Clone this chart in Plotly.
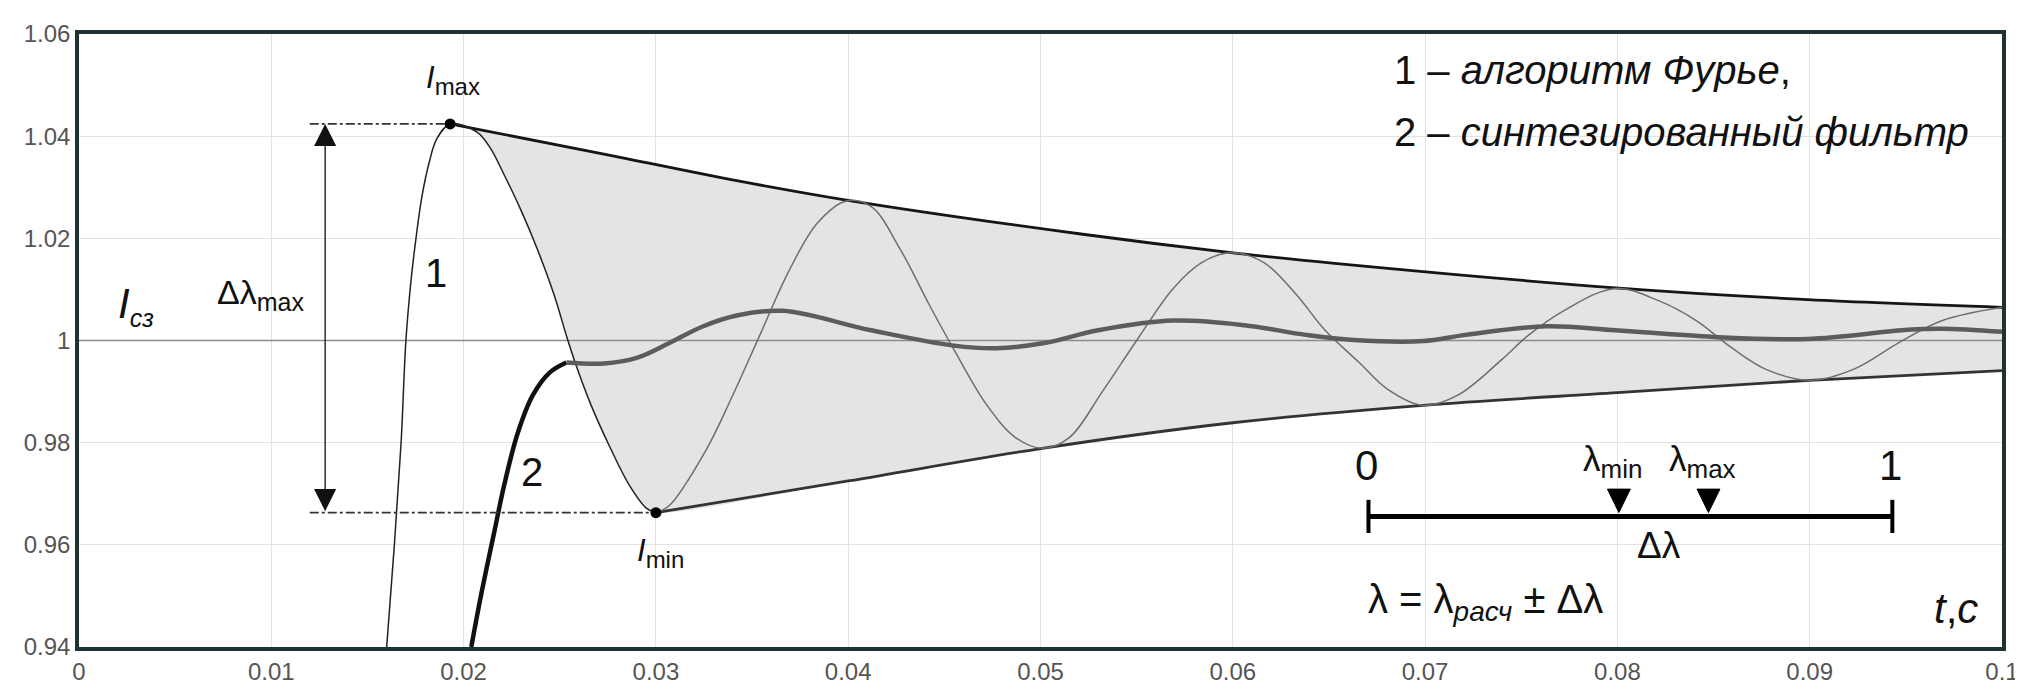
import plotly.graph_objects as go

# ---------------- data ----------------
x_ticks = [0, 0.01, 0.02, 0.03, 0.04, 0.05, 0.06, 0.07, 0.08, 0.09, 0.1]
x_tick_text = ["0", "0.01", "0.02", "0.03", "0.04", "0.05", "0.06", "0.07", "0.08", "0.09", "0.1"]
y_ticks = [0.94, 0.96, 0.98, 1.0, 1.02, 1.04, 1.06]
y_tick_text = ["0.94", "0.96", "0.98", "1", "1.02", "1.04", "1.06"]

# curve 1 - Fourier algorithm
c1_t = [0.0160, 0.0164, 0.01675, 0.0170, 0.01726, 0.01754, 0.01783, 0.01818, 0.01861, 0.0193,
        0.0207, 0.0214, 0.0221, 0.0229, 0.0238, 0.0247, 0.0254, 0.0259, 0.0266, 0.0276, 0.0286, 0.0295, 0.0300,
        0.0307, 0.0326, 0.0339, 0.0354, 0.0369, 0.0384, 0.0399, 0.0412, 0.0427, 0.0442, 0.0455, 0.0472,
        0.0487, 0.0501, 0.0515, 0.0532, 0.0550, 0.0569, 0.0584, 0.0599, 0.0616, 0.0633, 0.0648, 0.0666,
        0.0680, 0.0699, 0.0717, 0.0740, 0.0753, 0.0772, 0.0799, 0.0822, 0.0841, 0.0859, 0.0877, 0.0900,
        0.0923, 0.0946, 0.0969, 0.1000]
c1_y = [0.9400, 0.9600, 0.9800, 1.0000, 1.0115, 1.0205, 1.0281, 1.0344, 1.0395, 1.0424,
        1.0408, 1.0376, 1.0325, 1.0262, 1.0182, 1.0090, 1.0003, 0.9946, 0.9876, 0.9792, 0.9718, 0.9672, 0.9663,
        0.9677, 0.9785, 0.9885, 1.0010, 1.0135, 1.0230, 1.0273, 1.0262, 1.0179, 1.0071, 0.9982, 0.9874,
        0.9810, 0.9789, 0.9810, 0.9899, 1.0000, 1.0102, 1.0153, 1.0172, 1.0153, 1.0090, 1.0020, 0.9956,
        0.9906, 0.9873, 0.9893, 0.9963, 1.0008, 1.0058, 1.0102, 1.0077, 1.0039, 0.9987, 0.9944, 0.9922,
        0.9944, 0.9995, 1.0039, 1.0065]

# curve 2 - synthesized filter
c2_t = [0.0204, 0.0209, 0.0216, 0.0221, 0.0228, 0.0236, 0.0245, 0.02535,
        0.0273, 0.0290, 0.0307, 0.0324, 0.0342, 0.0366, 0.0412, 0.0455, 0.0477, 0.0502, 0.0530,
        0.0569, 0.0606, 0.0638, 0.0663, 0.0699, 0.0721, 0.0763, 0.0799, 0.0850, 0.0899, 0.0951,
        0.0969, 0.1000]
c2_y = [0.9400, 0.9500, 0.9626, 0.9715, 0.9817, 0.9893, 0.9938, 0.9957,
        0.9955, 0.9966, 0.9995, 1.0027, 1.0049, 1.0058, 1.0020, 0.9990, 0.9985, 0.9995, 1.0020,
        1.0039, 1.0030, 1.0011, 1.0001, 0.9999, 1.0011, 1.0028, 1.0020, 1.0007, 1.0003, 1.0021,
        1.0023, 1.0017]
c2_black_end_t = 0.02535

# envelopes
upper_t = [0.0193, 0.0273, 0.0342, 0.0399, 0.0522, 0.0599, 0.0653, 0.0799, 0.0899, 0.1000]
upper_y = [1.0424, 1.0365, 1.0313, 1.0275, 1.0208, 1.0172, 1.0151, 1.0103, 1.0080, 1.0065]
lower_t = [0.0300, 0.0400, 0.0501, 0.0600, 0.0699, 0.0800, 0.0900, 0.1000]
lower_y = [0.9663, 0.9725, 0.9789, 0.9839, 0.9873, 0.9898, 0.9922, 0.9941]

i_max = (0.0193, 1.0424)
i_min = (0.0300, 0.9663)
i_set = 1.0
dash_start_t = 0.0120
arrow_t = 0.0128

lam_min, lam_max = 0.478, 0.649   # positions on the 0..1 scale bar

# ---------------- layout helpers ----------------
W, H = 2023, 689
ML, MR, MT, MB = 71, 23, 23, 37
PW, PH = W - ML - MR, H - MT - MB
FONT = "Liberation Sans, Arial, sans-serif"


def pxx(xp):
    return (xp - ML) / PW


def pxy(yp):
    return (H - MB - yp) / PH


i_max_idx = c1_t.index(i_max[0])
i_min_idx = c1_t.index(i_min[0])
c2_split = c2_t.index(c2_black_end_t)

fig = go.Figure()

# fill region: lower boundary (curve 1 falling part + lower envelope), then upper envelope
fill_low_t = c1_t[i_max_idx:i_min_idx + 1] + lower_t[1:]
fill_low_y = c1_y[i_max_idx:i_min_idx + 1] + lower_y[1:]
fig.add_trace(go.Scatter(x=fill_low_t, y=fill_low_y, mode="lines",
                         line=dict(width=0, shape="spline", color="rgba(0,0,0,0)"),
                         hoverinfo="skip"))
fig.add_trace(go.Scatter(x=upper_t, y=upper_y, mode="lines", fill="tonexty",
                         fillcolor="#e4e4e4",
                         line=dict(width=2.8, shape="spline", color="#151515"),
                         hoverinfo="skip"))

# I_sz reference line
fig.add_trace(go.Scatter(x=[x_ticks[0], x_ticks[-1]], y=[i_set, i_set], mode="lines",
                         line=dict(width=1.6, color="#8c8c8c"), hoverinfo="skip"))

# lower envelope
fig.add_trace(go.Scatter(x=lower_t, y=lower_y, mode="lines",
                         line=dict(width=2.8, shape="spline", color="#333333"), hoverinfo="skip"))

# curve 1
fig.add_trace(go.Scatter(x=c1_t[:i_min_idx + 1], y=c1_y[:i_min_idx + 1], mode="lines",
                         line=dict(width=1.5, shape="spline", color="#222222"), hoverinfo="skip"))
fig.add_trace(go.Scatter(x=c1_t[i_min_idx:], y=c1_y[i_min_idx:], mode="lines",
                         line=dict(width=1.5, shape="spline", color="#6e6e6e"), hoverinfo="skip"))

# curve 2
fig.add_trace(go.Scatter(x=c2_t[:c2_split + 1], y=c2_y[:c2_split + 1], mode="lines",
                         line=dict(width=4.5, shape="spline", color="#111111"), hoverinfo="skip"))
fig.add_trace(go.Scatter(x=c2_t[c2_split:], y=c2_y[c2_split:], mode="lines",
                         line=dict(width=4.5, shape="spline", color="#5c5c5c"), hoverinfo="skip"))

# dash-dot level lines
for (tt, yy) in (i_max, i_min):
    fig.add_trace(go.Scatter(x=[dash_start_t, tt], y=[yy, yy], mode="lines",
                             line=dict(width=1.6, dash="dashdot", color="#333333"), hoverinfo="skip"))

# Imax / Imin dots
fig.add_trace(go.Scatter(x=[i_max[0], i_min[0]], y=[i_max[1], i_min[1]], mode="markers",
                         marker=dict(size=11, color="#000000"), hoverinfo="skip"))

annotations = []
# double arrow delta lambda max
annotations.append(dict(x=arrow_t, y=i_max[1], ax=arrow_t, ay=i_min[1], xref="x", yref="y",
                        axref="x", ayref="y", text="", showarrow=True, arrowside="end+start",
                        arrowhead=2, startarrowhead=2, arrowsize=3.4, startarrowsize=3.4,
                        arrowwidth=1.3, arrowcolor="#111111"))


def txt(text, x, y, size, xanchor="center", yanchor="middle", color="#111111"):
    annotations.append(dict(text=text, x=pxx(x), y=pxy(y), xref="paper", yref="paper",
                            showarrow=False, xanchor=xanchor, yanchor=yanchor,
                            font=dict(family=FONT, size=size, color=color)))


def sub(s, size):
    return "<sub><span style='font-size:%dpx'>%s</span></sub>" % (size, s)


txt("<i>I</i>" + sub("max", 24), 446, 70, 31)
txt("<i>I</i>" + sub("min", 24), 654, 556, 31)
txt("<i>I</i>" + sub("<i>сз</i>", 25), 128, 302, 42)
txt("Δλ" + sub("max", 25), 253, 290, 34)
txt("1", 429, 268, 40)
txt("2", 525, 472, 40)
txt("1 – <i>алгоритм Фурье</i>,", 1388, 60, 40, xanchor="left")
txt("2 – <i>синтезированный фильтр</i>", 1388, 124, 40, xanchor="left")

# scale bar
bar_x0, bar_x1, bar_y = 1364.5, 1890.0, 518.0
txt("0", bar_x0 - 2, 466, 42)
txt("1", bar_x1 - 2, 466, 42)
lmin_px = bar_x0 + lam_min * (bar_x1 - bar_x0)
lmax_px = bar_x0 + lam_max * (bar_x1 - bar_x0)
txt("λ" + sub("min", 26), lmin_px - 6, 462, 35)
txt("λ" + sub("max", 26), lmax_px - 6, 462, 35)
txt("Δλ", (bar_x0 + bar_x1) / 2 + 29, 548, 37)
txt("λ = λ" + sub("<i>расч</i>", 28) + " ± Δλ", 1362, 606, 40, xanchor="left")
txt("<i>t</i>,<i>c</i>", 1978, 612, 42, xanchor="right")

shapes = []
shapes.append(dict(type="line", xref="paper", yref="paper", x0=pxx(bar_x0), x1=pxx(bar_x1),
                   y0=pxy(bar_y), y1=pxy(bar_y), line=dict(color="#000000", width=5)))
for bx in (bar_x0, bar_x1):
    shapes.append(dict(type="line", xref="paper", yref="paper", x0=pxx(bx), x1=pxx(bx),
                       y0=pxy(501), y1=pxy(535), line=dict(color="#000000", width=4)))
for lx in (lmin_px, lmax_px):
    path = "M %f %f L %f %f L %f %f Z" % (pxx(lx - 11.5), pxy(490), pxx(lx + 11.5), pxy(490),
                                         pxx(lx), pxy(514))
    shapes.append(dict(type="path", xref="paper", yref="paper", path=path,
                       fillcolor="#000000", line=dict(color="#000000", width=1)))

fig.update_layout(
    width=W, height=H,
    margin=dict(l=ML, r=MR, t=MT, b=MB, pad=0),
    paper_bgcolor="white", plot_bgcolor="white",
    showlegend=False,
    font=dict(family=FONT),
    annotations=annotations,
    shapes=shapes,
    xaxis=dict(range=[x_ticks[0], x_ticks[-1]], tickvals=x_ticks, ticktext=x_tick_text,
               showgrid=True, gridcolor="#e2e2e2", gridwidth=1, zeroline=False,
               showline=True, linecolor="#1d3333", linewidth=3.5, mirror=True, ticks="",
               tickfont=dict(family=FONT, size=24, color="#555555")),
    yaxis=dict(range=[y_ticks[0], y_ticks[-1]], tickvals=y_ticks, ticktext=y_tick_text,
               showgrid=True, gridcolor="#e2e2e2", gridwidth=1, zeroline=False,
               showline=True, linecolor="#1d3333", linewidth=3.5, mirror=True, ticks="",
               tickfont=dict(family=FONT, size=24, color="#555555")),
)

fig.write_html("out.html")
